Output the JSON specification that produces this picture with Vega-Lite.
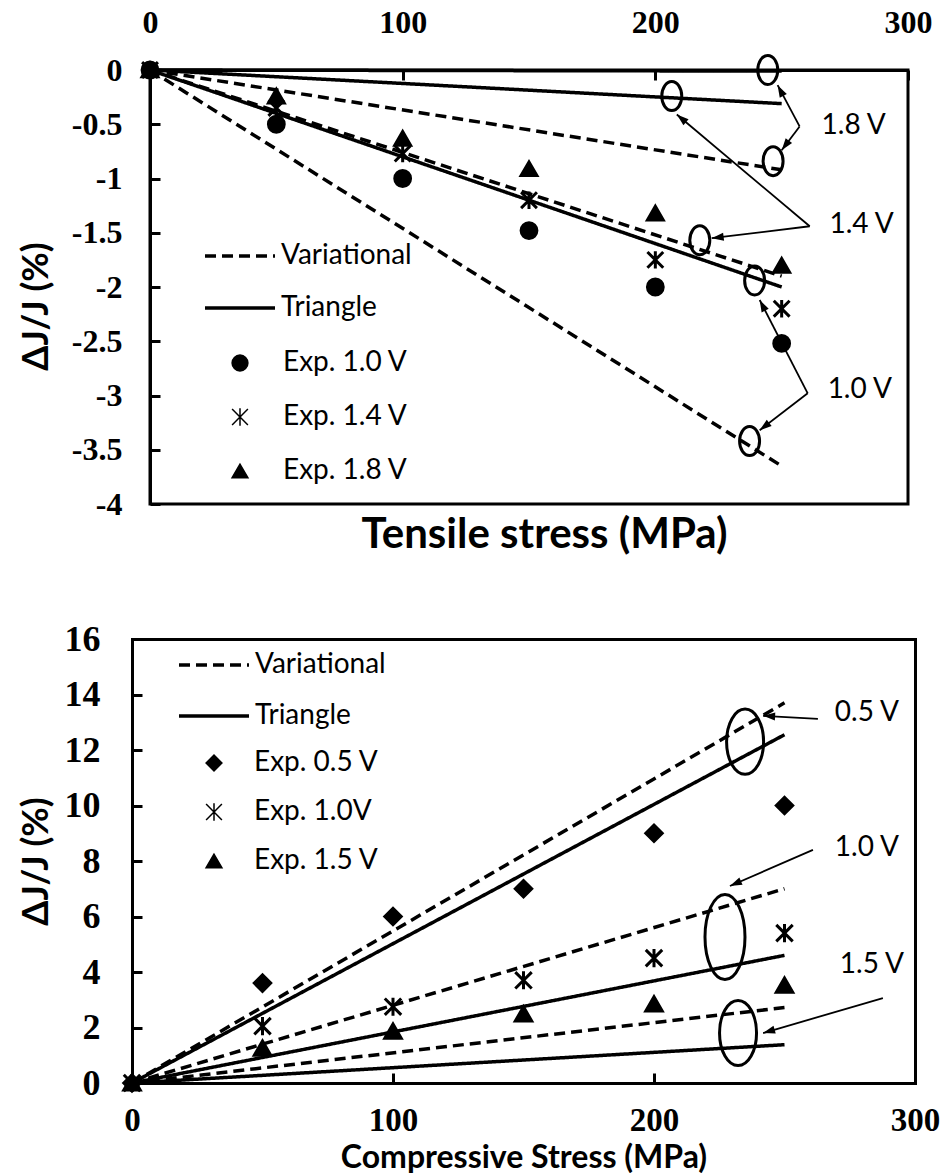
{
  "$schema": "https://vega.github.io/schema/vega-lite/v6.json",
  "padding": {"left": 16, "top": 4, "right": 0, "bottom": 0},
  "background": "white",
  "datasets": {
    "topPts": [
      {"series": "Exp. 1.0 V", "stress": 0, "dj": 0},
      {"series": "Exp. 1.0 V", "stress": 50, "dj": -0.5},
      {"series": "Exp. 1.0 V", "stress": 100, "dj": -1.0},
      {"series": "Exp. 1.0 V", "stress": 150, "dj": -1.48},
      {"series": "Exp. 1.0 V", "stress": 200, "dj": -2.0},
      {"series": "Exp. 1.0 V", "stress": 250, "dj": -2.52},
      {"series": "Exp. 1.4 V", "stress": 0, "dj": 0},
      {"series": "Exp. 1.4 V", "stress": 50, "dj": -0.35},
      {"series": "Exp. 1.4 V", "stress": 100, "dj": -0.77},
      {"series": "Exp. 1.4 V", "stress": 150, "dj": -1.2},
      {"series": "Exp. 1.4 V", "stress": 200, "dj": -1.75},
      {"series": "Exp. 1.4 V", "stress": 250, "dj": -2.2},
      {"series": "Exp. 1.8 V", "stress": 0, "dj": 0},
      {"series": "Exp. 1.8 V", "stress": 50, "dj": -0.24},
      {"series": "Exp. 1.8 V", "stress": 100, "dj": -0.63},
      {"series": "Exp. 1.8 V", "stress": 150, "dj": -0.91},
      {"series": "Exp. 1.8 V", "stress": 200, "dj": -1.32},
      {"series": "Exp. 1.8 V", "stress": 250, "dj": -1.8}
    ],
    "topLines": [
      {"method": "Variational", "v": "1.0 V", "stress": 0, "dj": 0},
      {"method": "Variational", "v": "1.0 V", "stress": 250, "dj": -3.65},
      {"method": "Triangle", "v": "1.0 V", "stress": 0, "dj": 0},
      {"method": "Triangle", "v": "1.0 V", "stress": 250, "dj": -2.0},
      {"method": "Variational", "v": "1.4 V", "stress": 0, "dj": 0},
      {"method": "Variational", "v": "1.4 V", "stress": 250, "dj": -1.9},
      {"method": "Triangle", "v": "1.4 V", "stress": 0, "dj": 0},
      {"method": "Triangle", "v": "1.4 V", "stress": 250, "dj": -0.31},
      {"method": "Variational", "v": "1.8 V", "stress": 0, "dj": 0},
      {"method": "Variational", "v": "1.8 V", "stress": 250, "dj": -0.92},
      {"method": "Triangle", "v": "1.8 V", "stress": 0, "dj": 0},
      {"method": "Triangle", "v": "1.8 V", "stress": 250, "dj": -0.01}
    ],
    "topEll": [
      {"x": 244.5, "y": 0},
      {"x": 246.6, "y": -0.84},
      {"x": 206.5, "y": -0.24},
      {"x": 217.6, "y": -1.57},
      {"x": 239.3, "y": -1.94},
      {"x": 237.3, "y": -3.42}
    ],
    "topArr": [
      {"xs": 257.1, "ys": -0.52, "xe": 248.4, "ye": -0.14},
      {"xs": 257.1, "ys": -0.52, "xe": 250.0, "ye": -0.74},
      {"xs": 261.1, "ys": -1.44, "xe": 208.5, "ye": -0.41},
      {"xs": 261.1, "ys": -1.44, "xe": 222.3, "ye": -1.55},
      {"xs": 260.3, "ys": -2.98, "xe": 241.3, "ye": -3.32},
      {"xs": 260.3, "ys": -2.98, "xe": 241.3, "ye": -2.12}
    ],
    "topLab": [
      {"t": "1.8 V", "x": 278.5, "y": -0.52},
      {"t": "1.4 V", "x": 281.6, "y": -1.43},
      {"t": "1.0 V", "x": 280.9, "y": -2.95}
    ],
    "botPts": [
      {"series": "Exp. 0.5 V", "stress": 0, "dj": 0},
      {"series": "Exp. 0.5 V", "stress": 50, "dj": 3.6},
      {"series": "Exp. 0.5 V", "stress": 100, "dj": 6.0},
      {"series": "Exp. 0.5 V", "stress": 150, "dj": 7.0},
      {"series": "Exp. 0.5 V", "stress": 200, "dj": 9.0},
      {"series": "Exp. 0.5 V", "stress": 250, "dj": 10.0},
      {"series": "Exp. 1.0V", "stress": 0, "dj": 0},
      {"series": "Exp. 1.0V", "stress": 50, "dj": 2.05},
      {"series": "Exp. 1.0V", "stress": 100, "dj": 2.75},
      {"series": "Exp. 1.0V", "stress": 150, "dj": 3.7},
      {"series": "Exp. 1.0V", "stress": 200, "dj": 4.5},
      {"series": "Exp. 1.0V", "stress": 250, "dj": 5.4},
      {"series": "Exp. 1.5 V", "stress": 0, "dj": 0},
      {"series": "Exp. 1.5 V", "stress": 50, "dj": 1.26},
      {"series": "Exp. 1.5 V", "stress": 100, "dj": 1.87},
      {"series": "Exp. 1.5 V", "stress": 150, "dj": 2.49},
      {"series": "Exp. 1.5 V", "stress": 200, "dj": 2.85},
      {"series": "Exp. 1.5 V", "stress": 250, "dj": 3.53}
    ],
    "botLines": [
      {"method": "Variational", "v": "0.5 V", "stress": 0, "dj": 0},
      {"method": "Variational", "v": "0.5 V", "stress": 250, "dj": 13.7},
      {"method": "Triangle", "v": "0.5 V", "stress": 0, "dj": 0},
      {"method": "Triangle", "v": "0.5 V", "stress": 250, "dj": 12.55},
      {"method": "Variational", "v": "1.0 V", "stress": 0, "dj": 0},
      {"method": "Variational", "v": "1.0 V", "stress": 250, "dj": 7.0},
      {"method": "Triangle", "v": "1.0 V", "stress": 0, "dj": 0},
      {"method": "Triangle", "v": "1.0 V", "stress": 250, "dj": 4.6},
      {"method": "Variational", "v": "1.5 V", "stress": 0, "dj": 0},
      {"method": "Variational", "v": "1.5 V", "stress": 250, "dj": 2.72},
      {"method": "Triangle", "v": "1.5 V", "stress": 0, "dj": 0},
      {"method": "Triangle", "v": "1.5 V", "stress": 250, "dj": 1.38}
    ],
    "botEll": [
      {"x": 234.9, "y": 12.3},
      {"x": 232.2, "y": 1.8}
    ],
    "botEllTall": [
      {"x": 227.2, "y": 5.26}
    ],
    "botArr": [
      {"xs": 262.8, "ys": 13.12, "xe": 241.8, "ye": 13.23},
      {"xs": 260.9, "ys": 8.4, "xe": 229.1, "ye": 7.1},
      {"xs": 287.7, "ys": 3.06, "xe": 241.8, "ye": 1.8}
    ],
    "botLab": [
      {"t": "0.5 V", "x": 281.6, "y": 13.33},
      {"t": "1.0 V", "x": 281.6, "y": 8.47},
      {"t": "1.5 V", "x": 283.5, "y": 4.25}
    ]
  },
  "columns": 1,
  "spacing": 64,
  "resolve": {"scale": {"shape": "independent", "strokeDash": "independent"}, "legend": {"shape": "independent", "strokeDash": "independent"}},
  "concat": [
    {
      "name": "panelA",
      "width": 758,
      "height": 434,
      "resolve": {"axis": {"x": "independent", "y": "independent"}},
      "layer": [
        {
          "data": {"name": "topLines"},
          "mark": {"type": "line", "color": "black", "strokeWidth": 3.5},
          "encoding": {
            "x": {"field": "stress", "type": "quantitative", "scale": {"domain": [0, 300], "nice": false},
              "axis": {"orient": "top", "values": [0, 100, 200, 300], "title": null, "labelFontSize": 32, "labelPadding": 41, "tickSize": -10}},
            "y": {"field": "dj", "type": "quantitative", "scale": {"domain": [-4, 0], "nice": false},
              "axis": {"orient": "left", "values": [0, -0.5, -1, -1.5, -2, -2.5, -3, -3.5, -4], "labelExpr": "datum.value == 0 ? '0' : '-' + format(-datum.value, '~g')", "labelFontSize": 32, "labelPadding": 38, "tickSize": -10, "title": "ΔJ/J (%)", "titleFontSize": 36, "titlePadding": 16, "titleY": 236}},
            "detail": {"field": "v", "type": "nominal"},
            "strokeDash": {"field": "method", "type": "nominal", "scale": {"domain": ["Variational", "Triangle"], "range": [[11, 6], [1, 0]]},
              "legend": {"legendX": 53, "legendY": 149, "symbolType": "stroke", "symbolSize": 4900, "symbolStrokeWidth": 3.5, "symbolStrokeColor": "black", "labelOffset": 4, "rowPadding": 1}}
          }
        },
        {
          "data": {"name": "topPts"},
          "mark": {"type": "point", "filled": true, "fill": "black", "stroke": "black", "strokeWidth": 3, "size": 250, "opacity": 1},
          "encoding": {
            "x": {"field": "stress", "type": "quantitative",
              "axis": {"orient": "bottom", "labels": false, "ticks": false, "domain": false, "title": "Tensile stress (MPa)", "titleFontSize": 42, "titlePadding": 10, "titleX": 394}},
            "y": {"field": "dj", "type": "quantitative", "axis": null},
            "shape": {"field": "series", "type": "nominal",
              "scale": {"domain": ["Exp. 1.0 V", "Exp. 1.4 V", "Exp. 1.8 V"], "range": ["circle", "M-1,-1L1,1M-1,1L1,-1M0,-1.1L0,1.1", "triangle-up"]},
              "legend": {"legendX": 76, "legendY": 279, "symbolSize": 250, "labelOffset": 29, "rowPadding": 26,
                "encode": {"symbols": {"update": {"fill": {"value": "black"}, "stroke": {"value": "black"}, "strokeWidth": {"value": 3}, "opacity": {"value": 1}}}}}}
          }
        },
        {
          "data": {"name": "topEll"},
          "mark": {"type": "point", "shape": "M0,-1.45C0.5523,-1.45,1,-0.8008,1,0C1,0.8008,0.5523,1.45,0,1.45C-0.5523,1.45,-1,0.8008,-1,0C-1,-0.8008,-0.5523,-1.45,0,-1.45Z", "filled": false, "stroke": "black", "strokeWidth": 3, "size": 400, "opacity": 1},
          "encoding": {
            "x": {"field": "x", "type": "quantitative", "axis": null},
            "y": {"field": "y", "type": "quantitative", "axis": null}
          }
        },
        {
          "data": {"name": "topArr"},
          "mark": {"type": "rule", "stroke": "black", "strokeWidth": 1.8},
          "encoding": {
            "x": {"field": "xs", "type": "quantitative", "axis": null},
            "y": {"field": "ys", "type": "quantitative", "axis": null},
            "x2": {"field": "xe"},
            "y2": {"field": "ye"}
          }
        },
        {
          "data": {"name": "topArr"},
          "mark": {"type": "point", "shape": "M0,0L-0.5,1.5L0.5,1.5Z", "filled": true, "fill": "black", "strokeWidth": 0, "size": 256, "opacity": 1},
          "encoding": {
            "x": {"field": "xe", "type": "quantitative", "axis": null},
            "y": {"field": "ye", "type": "quantitative", "axis": null},
            "angle": {"value": {"expr": "atan2(scale('panelA_x', datum.xe) - scale('panelA_x', datum.xs), scale('panelA_y', datum.ys) - scale('panelA_y', datum.ye)) * 180 / PI"}}
          }
        },
        {
          "data": {"name": "topLab"},
          "mark": {"type": "text", "font": "Lato", "fontSize": 28, "color": "black"},
          "encoding": {
            "x": {"field": "x", "type": "quantitative", "axis": null},
            "y": {"field": "y", "type": "quantitative", "axis": null},
            "text": {"field": "t"}
          }
        }
      ]
    },
    {
      "name": "panelB",
      "width": 765,
      "height": 444,
      "view": {"stroke": null},
      "resolve": {"axis": {"x": "independent", "y": "independent"}},
      "layer": [
        {
          "data": {"name": "botLines"},
          "mark": {"type": "line", "color": "black", "strokeWidth": 3.5},
          "encoding": {
            "x": {"field": "stress", "type": "quantitative", "scale": {"domain": [0, 300], "range": [-18, 765], "nice": false},
              "axis": {"orient": "bottom", "values": [0, 100, 200, 300], "labelFontSize": 33, "labelPadding": 31, "tickSize": -10, "domainCap": "square", "title": "Compressive Stress (MPa)", "titleFontSize": 32, "titlePadding": 5}},
            "y": {"field": "dj", "type": "quantitative", "scale": {"domain": [0, 16], "nice": false},
              "axis": {"orient": "left", "offset": 18, "values": [0, 2, 4, 6, 8, 10, 12, 14, 16], "labelFontSize": 36, "labelPadding": 42, "tickSize": -10, "domainCap": "square", "title": "ΔJ/J (%)", "titleFontSize": 36, "titlePadding": 9}},
            "detail": {"field": "v", "type": "nominal"},
            "strokeDash": {"field": "method", "type": "nominal", "scale": {"domain": ["Variational", "Triangle"], "range": [[11, 6], [1, 0]]},
              "legend": {"legendX": 27, "legendY": -11, "symbolType": "stroke", "symbolSize": 4900, "symbolStrokeWidth": 3.5, "symbolStrokeColor": "black", "labelOffset": 4, "rowPadding": -5}}
          }
        },
        {
          "data": {"name": "botPts"},
          "mark": {"type": "point", "filled": true, "fill": "black", "stroke": "black", "strokeWidth": 3, "size": 270, "opacity": 1},
          "encoding": {
            "x": {"field": "stress", "type": "quantitative",
              "axis": {"orient": "top", "labels": false, "ticks": false, "title": null, "domainCap": "square"}},
            "y": {"field": "dj", "type": "quantitative", "axis": null},
            "shape": {"field": "series", "type": "nominal",
              "scale": {"domain": ["Exp. 0.5 V", "Exp. 1.0V", "Exp. 1.5 V"], "range": ["diamond", "M-1,-1L1,1M-1,1L1,-1M0,-1.1L0,1.1", "triangle-up"]},
              "legend": {"legendX": 50, "legendY": 110, "symbolSize": 250, "labelOffset": 26, "rowPadding": 21,
                "encode": {"symbols": {"update": {"fill": {"value": "black"}, "stroke": {"value": "black"}, "strokeWidth": {"value": 3}, "opacity": {"value": 1}}}}}}
          }
        },
        {
          "data": {"name": "botEll"},
          "mark": {"type": "point", "shape": "M0,-1.76C0.5523,-1.76,1,-0.972,1,0C1,0.972,0.5523,1.76,0,1.76C-0.5523,1.76,-1,0.972,-1,0C-1,-0.972,-0.5523,-1.76,0,-1.76Z", "filled": false, "stroke": "black", "strokeWidth": 3, "size": 1369, "opacity": 1},
          "encoding": {
            "x": {"field": "x", "type": "quantitative", "axis": null},
            "y": {"field": "y", "type": "quantitative",
              "axis": {"orient": "right", "labels": false, "ticks": false, "title": null, "domainCap": "square"}}
          }
        },
        {
          "data": {"name": "botEllTall"},
          "mark": {"type": "point", "shape": "M0,-2.125C0.5523,-2.125,1,-1.1736,1,0C1,1.1736,0.5523,2.125,0,2.125C-0.5523,2.125,-1,1.1736,-1,0C-1,-1.1736,-0.5523,-2.125,0,-2.125Z", "filled": false, "stroke": "black", "strokeWidth": 3, "size": 1600, "opacity": 1},
          "encoding": {
            "x": {"field": "x", "type": "quantitative", "axis": null},
            "y": {"field": "y", "type": "quantitative", "axis": null}
          }
        },
        {
          "data": {"name": "botArr"},
          "mark": {"type": "rule", "stroke": "black", "strokeWidth": 1.8},
          "encoding": {
            "x": {"field": "xs", "type": "quantitative", "axis": null},
            "y": {"field": "ys", "type": "quantitative", "axis": null},
            "x2": {"field": "xe"},
            "y2": {"field": "ye"}
          }
        },
        {
          "data": {"name": "botArr"},
          "mark": {"type": "point", "shape": "M0,0L-0.5,1.5L0.5,1.5Z", "filled": true, "fill": "black", "strokeWidth": 0, "size": 256, "opacity": 1},
          "encoding": {
            "x": {"field": "xe", "type": "quantitative", "axis": null},
            "y": {"field": "ye", "type": "quantitative", "axis": null},
            "angle": {"value": {"expr": "atan2(scale('panelB_x', datum.xe) - scale('panelB_x', datum.xs), scale('panelB_y', datum.ys) - scale('panelB_y', datum.ye)) * 180 / PI"}}
          }
        },
        {
          "data": {"name": "botLab"},
          "mark": {"type": "text", "font": "Lato", "fontSize": 28, "color": "black"},
          "encoding": {
            "x": {"field": "x", "type": "quantitative", "axis": null},
            "y": {"field": "y", "type": "quantitative", "axis": null},
            "text": {"field": "t"}
          }
        }
      ]
    }
  ],
  "config": {
    "view": {"stroke": "black", "strokeWidth": 3},
    "axis": {"grid": false, "domainColor": "black", "domainWidth": 3, "tickColor": "black", "tickWidth": 3, "labelColor": "black", "titleColor": "black", "labelFont": "Liberation Serif", "labelFontWeight": "bold", "titleFont": "Lato", "titleFontWeight": "bold", "labelFlush": false, "labelOverlap": false},
    "legend": {"orient": "none", "title": null, "labelFont": "Lato", "labelFontSize": 28, "labelColor": "black", "padding": 0}
  }
}
